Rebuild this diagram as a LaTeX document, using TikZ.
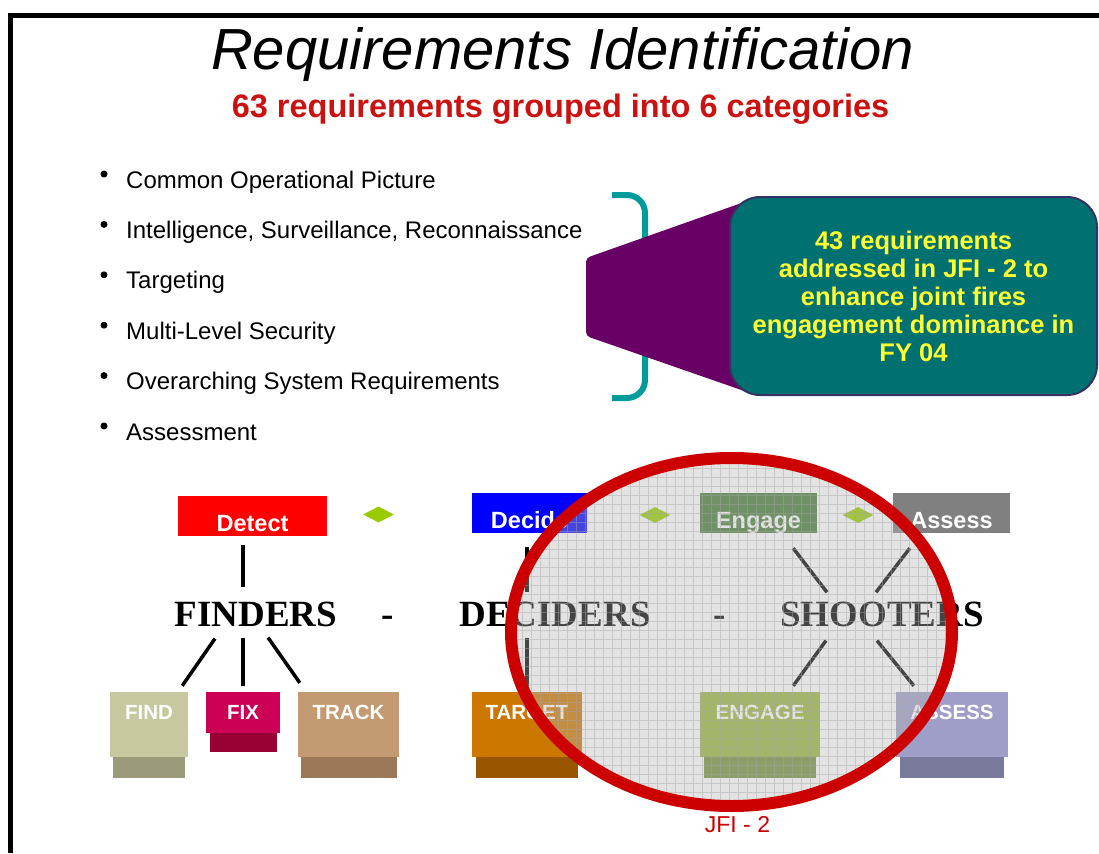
\documentclass[tikz,border=0pt]{standalone}
\usepackage{fontspec}
\setmainfont{Liberation Sans}
\newfontfamily\groupfont{Liberation Serif}
\usetikzlibrary{positioning,shapes.geometric}

\definecolor{subred}{HTML}{CC1111}
\definecolor{brackteal}{HTML}{009C9C}
\definecolor{funnelpurple}{HTML}{690066}
\definecolor{boxteal}{HTML}{007070}
\definecolor{boxrim}{HTML}{333366}
\definecolor{boxyellow}{HTML}{FFFF33}
\definecolor{arrowgreen}{HTML}{99CC00}
\definecolor{detectred}{HTML}{FF0000}
\definecolor{decideblue}{HTML}{0000FF}
\definecolor{engagegreen}{HTML}{467A34}
\definecolor{assessgray}{HTML}{808080}
\definecolor{findtop}{HTML}{C8C8A0}
\definecolor{findbase}{HTML}{9B9B7C}
\definecolor{fixtop}{HTML}{CC0055}
\definecolor{fixbase}{HTML}{990033}
\definecolor{tracktop}{HTML}{C49A72}
\definecolor{trackbase}{HTML}{9A7858}
\definecolor{targettop}{HTML}{CC7700}
\definecolor{targetbase}{HTML}{995500}
\definecolor{engagetop}{HTML}{97B53A}
\definecolor{engagebase}{HTML}{77903A}
\definecolor{assesstop}{HTML}{9E9EC8}
\definecolor{assessbase}{HTML}{7A7A9C}
\definecolor{ringred}{HTML}{CC0000}

\begin{document}
\begin{tikzpicture}[
    x=1pt, y=-1pt,
    header/.style={minimum height=40pt, inner sep=0pt, text height=31pt, text depth=0pt,
        text=white, font=\fontsize{23.5}{26}\selectfont\bfseries},
    group/.style={anchor=base, inner sep=3pt, font=\groupfont\fontsize{37}{40}\selectfont\bfseries},
    bucket/.style={minimum height=65pt, inner sep=0pt},
    base/.style={anchor=north, minimum height=21pt, inner sep=0pt},
    bucket text/.style={anchor=base, yshift=-28pt, text=white,
        font=\fontsize{20.5}{22}\selectfont\bfseries},
    link/.style={line width=3.5pt, black},
    flow/.style={diamond, fill=arrowgreen, minimum width=31pt, minimum height=16pt,
        inner sep=0pt}
]
\useasboundingbox (0,0) rectangle (1099,853);

% frame
\draw[line width=5pt] (10.5,853) -- (10.5,15.5) -- (1099,15.5);

% title lines
\node[anchor=base, font=\fontsize{58}{62}\selectfont\itshape] (title) at (562.5,70) {Requirements Identification};
\node[anchor=base, text=subred, font=\fontsize{32.5}{36}\selectfont\bfseries] (subtitle) at (560.5,118)
    {63 requirements grouped into 6 categories};

% the six categories
\foreach \i/\txt in {1/Common Operational Picture,
                     2/{Intelligence, Surveillance, Reconnaissance},
                     3/Targeting,
                     4/Multi-Level Security,
                     5/Overarching System Requirements,
                     6/Assessment} {
    \node[anchor=base west, inner sep=0pt, font=\fontsize{24}{26}\selectfont] (item\i)
        at (126,{188+50.4*(\i-1)}) {\txt};
    \node[circle, fill, inner sep=0pt, minimum size=7pt] (dot\i)
        at (104,{174+50.4*(\i-1)}) {};
}

% bracket and funnel into the callout
\draw[brackteal, line width=6pt, rounded corners=18pt] (612,195) -- (645,195) -- (645,398) -- (612,398);
\fill[funnelpurple, rounded corners=4pt] (586,258) -- (750,200) -- (750,393) -- (586,336) -- cycle;
\node[draw=boxrim, line width=2pt, fill=boxteal, rounded corners=30pt,
      minimum width=367pt, minimum height=198pt, align=center, text=boxyellow,
      font=\fontsize{25.5}{28}\selectfont\bfseries] (callout) at (913.5,296)
    {43 requirements\\addressed in JFI - 2 to\\enhance joint fires\\engagement dominance in\\FY 04};

% top row: the four phases
\node[header, fill=detectred, minimum width=149pt] (detect) at (252.5,516) {Detect};
\node[header, fill=decideblue, minimum width=115pt] (decide) at (529.5,513) {Decide};
\node[header, fill=engagegreen, minimum width=117pt] (engage) at (758.5,513) {Engage};
\node[header, fill=assessgray, minimum width=117pt] (assess) at (951.5,513) {Assess};

\node[flow] (flow1) at (378.5,514.5) {};
\node[flow] (flow2) at (655,515) {};
\node[flow] (flow3) at (858,515) {};

% middle row
\node[group] (finders) at (256,626) {FINDERS};
\node[group] (dash1) at (388,626) {-};
\node[group] (deciders) at (555,626) {DECIDERS};
\node[group] (dash2) at (720,626) {-};
\node[group] (shooters) at (882,626) {SHOOTERS};

% bottom row
\node[bucket, fill=findtop, minimum width=78pt, label={[bucket text]north:FIND}] (find) at (149,724.5) {};
\node[base, fill=findbase, minimum width=72pt] (findbase) at (find.south) {};
\node[bucket, fill=fixtop, minimum width=74pt, minimum height=41pt, label={[bucket text]north:FIX}] (fix) at (243,712.5) {};
\node[base, fill=fixbase, minimum width=67pt, minimum height=19pt] (fixbase) at (fix.south) {};
\node[bucket, fill=tracktop, minimum width=101pt, label={[bucket text]north:TRACK}] (track) at (348.5,724.5) {};
\node[base, fill=trackbase, minimum width=96pt] (trackbase) at (track.south) {};
\node[bucket, fill=targettop, minimum width=110pt, label={[bucket text]north:TARGET}] (target) at (527,724.5) {};
\node[base, fill=targetbase, minimum width=102pt] (targetbase) at (target.south) {};
\node[bucket, fill=engagetop, minimum width=120pt, label={[bucket text]north:ENGAGE}] (engagebox) at (760,724.5) {};
\node[base, fill=engagebase, minimum width=112pt] (engagebase) at (engagebox.south) {};
\node[bucket, fill=assesstop, minimum width=112pt, label={[bucket text]north:ASSESS}] (assessbox) at (952,724.5) {};
\node[base, fill=assessbase, minimum width=104pt] (assessbase) at (assessbox.south) {};

% connectors
\draw[link, shorten <=9pt, shorten >=11pt] (detect.south -| fix.north) -- (finders.north -| fix.north);
\draw[link] ([xshift=-41pt,yshift=-9pt]finders.south) -- ([xshift=-6pt,yshift=6pt]find.north east);
\draw[link, shorten <=8pt, shorten >=6pt] (finders.south -| fix.north) -- (fix.north);
\draw[link] ([xshift=12pt,yshift=-8pt]finders.south) -- ([xshift=2pt,yshift=9pt]track.north west);
\draw[link, shorten <=14pt, shorten >=6pt] (decide.south -| target.north) -- (deciders.north -| target.north);
\draw[link, shorten <=8pt, shorten >=6pt] (deciders.south -| target.north) -- (target.north);
\draw[link] ([xshift=-24pt,yshift=-15pt]engage.south east) -- ([xshift=-55pt,yshift=6pt]shooters.north);
\draw[link] ([xshift=17pt,yshift=-15pt]assess.south west) -- ([xshift=-6pt,yshift=6pt]shooters.north);
\draw[link] ([xshift=-56pt,yshift=-11pt]shooters.south) -- ([xshift=-27pt,yshift=6pt]engagebox.north east);
\draw[link] ([xshift=-5pt,yshift=-11pt]shooters.south) -- ([xshift=18pt,yshift=6pt]assessbox.north west);

% JFI-2 ring with its screened inside
\coordinate (jfi) at (731.5,632);
\begin{scope}
    \clip (jfi) ellipse [x radius=220.5pt, y radius=174pt];
    \fill[gray!58, opacity=0.38] (500,450) rectangle (960,815);
    \draw[gray!70, line width=0.8pt, opacity=0.45, step=9pt] (500,450) grid (960,815);
\end{scope}
\draw[ringred, line width=12pt] (jfi) ellipse [x radius=220.5pt, y radius=174pt];
\node[anchor=base, text=ringred, font=\fontsize{23}{26}\selectfont] (jfilabel) at (737.5,832) {JFI - 2};
\end{tikzpicture}
\end{document}
